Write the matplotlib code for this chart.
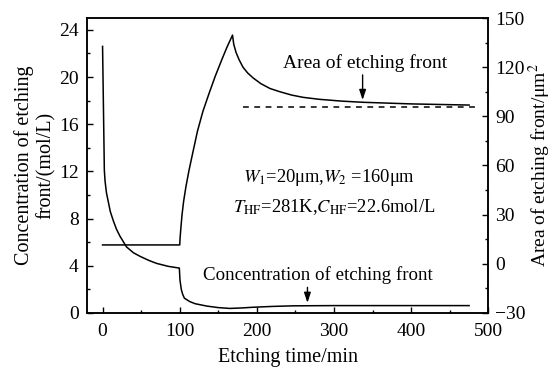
import matplotlib.pyplot as plt

plt.rcParams['font.family'] = ['Liberation Serif', 'DejaVu Serif']
plt.rcParams['mathtext.fontset'] = 'stix'

# concentration of etching front (mol/L), left axis
t_conc = [0, 2.3, 3.2, 5, 7.5, 10, 14, 18, 22.6, 31, 40, 48.5, 60, 70, 85, 99.5,
          100.3, 102, 103.7, 106, 113, 120, 135, 150, 165, 180, 195, 220, 247, 300, 400, 475]
conc = [22.6, 12.1, 11.2, 10.2, 9.4, 8.6, 7.8, 7.1, 6.5, 5.6, 5.1, 4.8, 4.45, 4.2, 3.95, 3.8,
        2.8, 2.0, 1.6, 1.25, 0.96, 0.78, 0.58, 0.45, 0.38, 0.42, 0.48, 0.55, 0.6, 0.62, 0.62, 0.62]

# area of etching front (um^2), right axis
t_area = [0, 100, 100.5, 101.5, 103, 105, 108, 112, 117, 123, 130, 138, 146, 154, 161, 168.4,
          170, 173, 177, 182, 188, 195, 205, 217, 230, 245, 260, 281, 310, 337, 400, 475]
area = [11.5, 11.5, 16, 22, 30, 38, 47, 57, 68, 81, 93, 104, 114.5, 124, 132, 139.6,
        134, 129, 124.5, 120, 116.5, 113.5, 110, 107, 105, 103, 101.6, 100.4, 99.3, 98.6, 97.6, 96.9]

# dashed reference line
t_ref = [182, 482]
area_ref = [95.7, 95.7]

fig, ax = plt.subplots(figsize=(5.55, 3.69), dpi=100)
fig.subplots_adjust(left=0.157, right=0.880, bottom=0.152, top=0.951)
ax2 = ax.twinx()

ax.plot(t_conc, conc, color='black', linewidth=1.1)
ax2.plot(t_area, area, color='black', linewidth=1.1)
ax2.plot(t_ref, area_ref, color='black', linewidth=1.1, linestyle=(0, (3.8, 3.6)))

ax.set_xlim(-20, 500)
ax.set_ylim(0, 25)
ax2.set_ylim(-30, 150)

ax.set_xticks(range(0, 501, 100))
ax.set_xticks(range(0, 501, 50), minor=True)
ax.set_yticks(range(0, 25, 4))
ax.set_yticks(range(0, 25, 2), minor=True)
ax2.set_yticks(range(-30, 151, 30))
ax2.set_yticks(range(-30, 151, 15), minor=True)

for a in (ax, ax2):
    a.tick_params(which='major', direction='in', length=4, width=1, labelsize=14, pad=6)
    a.tick_params(which='minor', direction='in', length=2.5, width=1)
    for s in a.spines.values():
        s.set_linewidth(1.1)
ax.tick_params(axis='x', pad=7)
ax2.tick_params(axis='y', pad=5)

ax.set_xlabel('Etching time/min', fontsize=14.5, labelpad=6)
ax.set_ylabel('Concentration of etching\nfront/(mol/L)', fontsize=14.5, labelpad=2)
ax2.set_ylabel('Area of etching front/μm$^2$', fontsize=14, labelpad=1)

ax.text(182, 11.5, '$W_1$=20μm,$W_2$ =160μm', fontsize=13.3, va='center', ha='left')
ax.text(169, 9.0, '$T_{\\rm HF}$=281K,$C_{\\rm HF}$=22.6mol/L', fontsize=13.3, va='center', ha='left')

ax2.annotate('', xy=(337, 98.3), xytext=(337, 117),
             arrowprops=dict(arrowstyle='-|>,head_length=0.6,head_width=0.2', color='black', lw=1))
ax.text(233.5, 21.2, 'Area of etching front', fontsize=14, va='center', ha='left')

ax.annotate('', xy=(265.5, 0.62), xytext=(265.5, 2.4),
            arrowprops=dict(arrowstyle='-|>,head_length=0.6,head_width=0.2', color='black', lw=1))
ax.text(130, 3.2, 'Concentration of etching front', fontsize=13.6, va='center', ha='left')

fig.savefig('out.png', dpi=100)
